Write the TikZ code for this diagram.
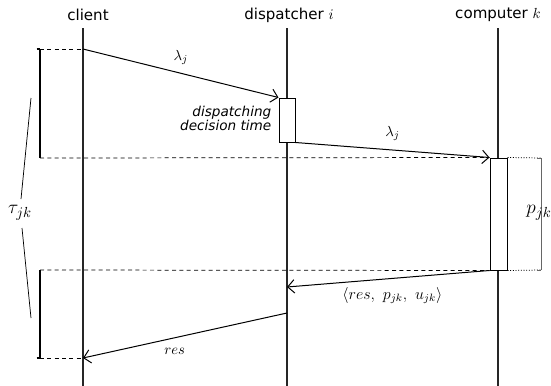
\documentclass[tikz,border=0pt]{standalone}
\usepackage{fontspec}
\newfontfamily\dv{DejaVu Sans}
\usetikzlibrary{arrows.meta}
\begin{document}
\begin{tikzpicture}[x=0.75pt,y=-0.75pt,
  life/.style={line width=0.8pt,black!85},
  msg/.style={line width=0.75pt,-{Straight Barb[length=5pt,width=10pt,line width=0.75pt]}},
  actbox/.style={draw,line width=0.75pt,fill=white,inner sep=0pt,minimum width=12pt},
  guide/.style={line width=0.55pt,dash pattern=on 3pt off 2.5pt},
  dots/.style={line width=0.55pt,dash pattern=on 0.8pt off 1.2pt},
  hdr/.style={font=\dv\fontsize{11.3}{13}\selectfont},
  lbl/.style={font=\fontsize{11}{13}\selectfont}]
\useasboundingbox (0,0) rectangle (551,386);
% headers
\node[hdr] (hc) at (88,15) {client};
\node[hdr] (hd) at (289,15) {dispatcher $i$};
\node[hdr] (hk) at (498,15) {computer $k$};
% lifeline ends
\coordinate (c0) at (83,28); \coordinate (cE) at (83,386);
\coordinate (d0) at (287,28); \coordinate (dE) at (287,386);
\coordinate (k0) at (498,28); \coordinate (kE) at (498,386);
\draw[life] (c0) -- (cE);
\draw[life] (d0) -- (dE);
\draw[life] (k0) -- (kE);
% activation boxes
\node[actbox,minimum height=33pt] (db) at (287,120) {};
\node[actbox,minimum width=12.75pt,minimum height=84pt] (kb) at (498.5,214) {};
% message points
\coordinate (c1) at (83,49);
\coordinate (d2) at (287,287);
\coordinate (d3) at (287,313);
\coordinate (c2) at (83,358);
\draw[msg] (c1) -- (db.north west) node[lbl,pos=0.5,above=3pt] (l1) {$\lambda_j$};
\draw[msg] (db.south east) -- (kb.north west) node[lbl,pos=0.5,above=3pt] (l2) {$\lambda_j$};
\draw[msg] (kb.south west) -- (d2) node[font=\fontsize{12}{14}\selectfont,pos=0.48,below=3pt] (l3) {$\langle res,\ p_{jk},\ u_{jk}\rangle$};
\draw[msg] (d3) -- (c2) node[lbl,pos=0.55,below=4pt] (l4) {$res$};
\node[font=\dv\itshape\fontsize{10.2}{10.5}\selectfont,align=right,anchor=east] (dt) at (276,118) {dispatching\\decision time};
% guide lines
\coordinate (g1) at (40,49);
\coordinate (g2) at (40,158);
\coordinate (g3) at (40,270);
\coordinate (g4) at (40,358);
\draw[guide] (g1) -- (c1);
\draw[guide] (g2) -- (kb.north west);
\draw[guide] (g3) -- (kb.south west);
\draw[guide] (g4) -- (c2);
\draw[line width=0.8pt] (g1) -- (g2);
\draw[line width=0.8pt] (g3) -- (g4);
\draw[line width=0.8pt] ([xshift=-2.5pt]g1) -- ([xshift=0pt]g1);
\draw[line width=0.8pt] ([xshift=-2.5pt]g4) -- ([xshift=0pt]g4);
% tau label
\node[font=\fontsize{15}{17}\selectfont] (tau) at (20,213) {$\tau_{jk}$};
\coordinate (t1) at (31,98); \coordinate (t2) at (21,199);
\coordinate (t3) at (22,228); \coordinate (t4) at (31,318);
\draw[line width=0.55pt] (t1) -- (t2);
\draw[line width=0.55pt] (t3) -- (t4);
% p_jk
\coordinate (p1) at (541,158); \coordinate (p2) at (541,270);
\draw[dots] (kb.north east) -- (p1);
\draw[dots] (kb.south east) -- (p2);
\draw[line width=0.5pt,black!60] (p1) -- (p2);
\draw[line width=0.5pt,black!60] ([xshift=-3pt]p1) -- (p1);
\draw[line width=0.5pt,black!60] ([xshift=-3pt]p2) -- (p2);
\node[font=\fontsize{15}{17}\selectfont] (pjk) at (539,213) {$p_{jk}$};
\end{tikzpicture}
\end{document}
